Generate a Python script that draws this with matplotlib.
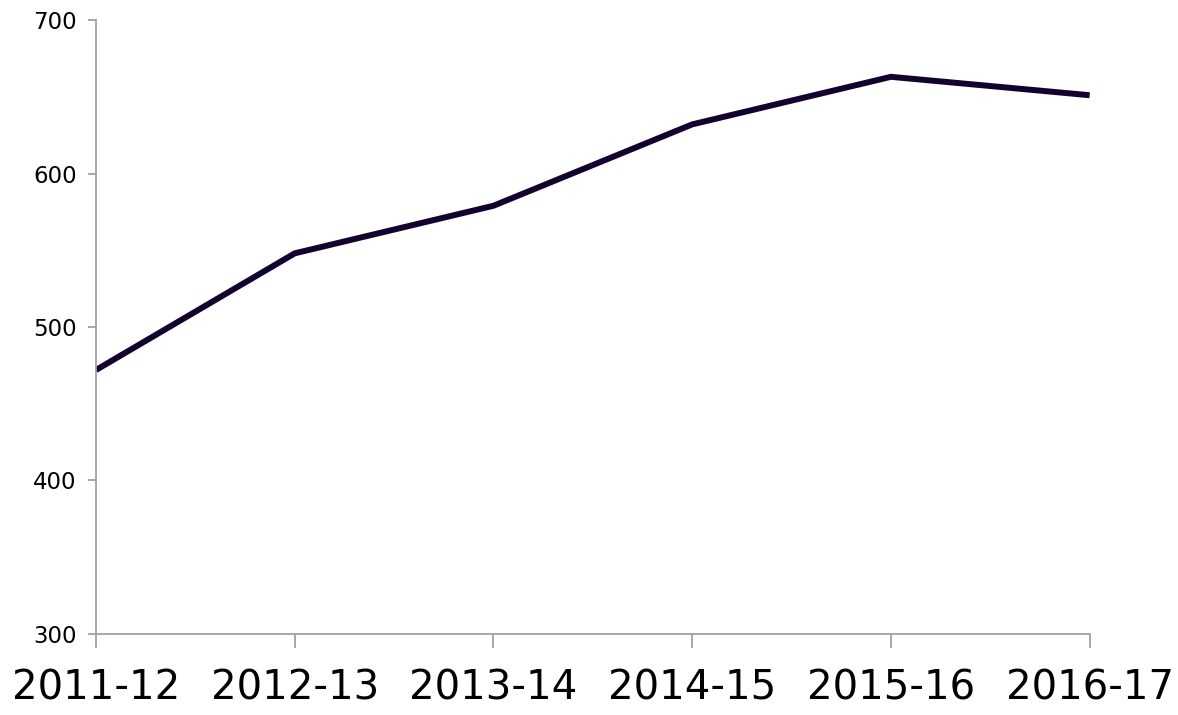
import matplotlib.pyplot as plt

years = ["2011-12", "2012-13", "2013-14", "2014-15", "2015-16", "2016-17"]
values = [472, 548, 579, 632, 663, 651]
y_ticks = [300, 400, 500, 600, 700]

AXIS_GREY = "#a0a0a0"
LINE_COL = "#12022e"

fig = plt.figure(figsize=(11.78, 7.15), dpi=100)
ax = fig.add_axes([0.0815, 0.1133, 0.8435, 0.8587])

x = range(len(years))
ax.plot(x, values, color=LINE_COL, linewidth=4.3, solid_capstyle="butt", solid_joinstyle="miter")

ax.set_xlim(0, len(years) - 1)
ax.set_ylim(300, 700)
ax.set_yticks(y_ticks)
ax.set_xticks(list(x))
ax.set_xticklabels(years)

for s in ["top", "right"]:
    ax.spines[s].set_visible(False)
for s in ["left", "bottom"]:
    ax.spines[s].set_color(AXIS_GREY)
    ax.spines[s].set_linewidth(1.3)
ax.spines["bottom"].set_zorder(0)

ax.tick_params(axis="y", direction="out", length=6, width=1.3, color=AXIS_GREY,
               labelsize=16.5, pad=8)
ax.tick_params(axis="x", direction="out", length=10, width=1.3, color=AXIS_GREY,
               labelsize=29, pad=15)

fig.savefig("out.png", dpi=100)
